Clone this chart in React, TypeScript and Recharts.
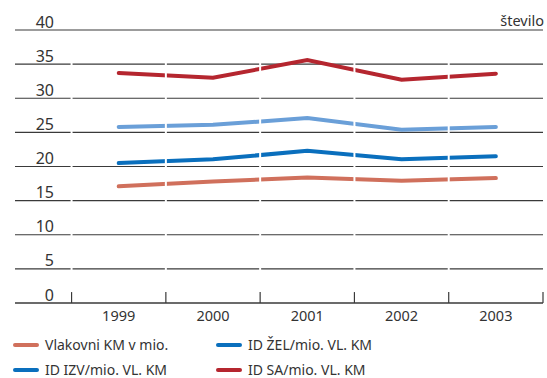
import { LineChart, Line, XAxis, YAxis, CartesianGrid, ReferenceLine } from 'recharts';

const years = ['1999', '2000', '2001', '2002', '2003'];
const vlakovniKm = [17.1, 17.8, 18.4, 17.9, 18.3];
const idZel = [20.5, 21.05, 22.3, 21.05, 21.5];
const idIzv = [25.8, 26.1, 27.1, 25.4, 25.8];
const idSa = [33.7, 33.0, 35.6, 32.7, 33.6];
const yTicks = [0, 5, 10, 15, 20, 25, 30, 35, 40];

const FONT = '"Noto Sans", "Open Sans", sans-serif';
const TEXT = '#333';
const GRID = '#3a3a3a';

const series = [
  { key: 'vlak', name: 'Vlakovni KM v mio.', color: '#d0705c', legend: '#d0705c' },
  { key: 'zel', name: 'ID ŽEL/mio. VL. KM', color: '#0a6fbd', legend: '#0a6fbd' },
  { key: 'izv', name: 'ID IZV/mio. VL. KM', color: '#6a9fd8', legend: '#0a6fbd' },
  { key: 'sa', name: 'ID SA/mio. VL. KM', color: '#b5262f', legend: '#b5262f' },
];

const data = years.map((y, i) => ({
  i,
  year: y,
  vlak: vlakovniKm[i],
  zel: idZel[i],
  izv: idIzv[i],
  sa: idSa[i],
}));

// category boundaries (between years) on the numeric x scale
const bounds = [...years.map((_, i) => i - 0.5), years.length - 0.5];

const renderYTick = (props: any) => {
  const { y, payload } = props;
  return (
    <text key={payload.value} x={54} y={y - 2.5} textAnchor="end" fill={TEXT} fontSize={16} fontFamily={FONT}>
      {payload.value}
    </text>
  );
};

const legendPos = [
  { left: 13, top: 337 },
  { left: 216, top: 337 },
  { left: 13, top: 362 },
  { left: 216, top: 362 },
];

export default function App() {
  return (
    <div style={{ position: 'absolute', left: 0, top: 0, width: 547, height: 378, background: '#fff', fontFamily: FONT }}>
      <LineChart width={547} height={330} data={data} margin={{ top: 30, right: 4, left: 0, bottom: 0 }}>
        <CartesianGrid vertical={false} stroke={GRID} strokeWidth={1.2} />
        <XAxis
          dataKey="i"
          type="number"
          domain={[-1.1, 4.5]}
          ticks={years.map((_, i) => i)}
          tickFormatter={(v) => years[v]}
          tickLine={false}
          tickSize={0}
          tickMargin={8}
          height={27}
          axisLine={{ stroke: GRID, strokeWidth: 1.2 }}
          tick={{ fill: TEXT, fontSize: 14.5, fontFamily: FONT }}
        />
        <YAxis
          domain={[0, 40]}
          ticks={yTicks}
          width={15}
          axisLine={false}
          tickLine={false}
          tickSize={0}
          tickMargin={0}
          tick={renderYTick}
        />
        {series.map((s) => (
          <Line
            key={s.key}
            dataKey={s.key}
            stroke={s.color}
            strokeWidth={4}
            strokeLinecap="round"
            dot={false}
            isAnimationActive={false}
          />
        ))}
        {bounds.slice(0, -1).map((b) => (
          <ReferenceLine
            key={'w' + b}
            segment={[{ x: b, y: 1.7 }, { x: b, y: 38 }]}
            stroke="#fff"
            strokeWidth={2}
          />
        ))}
        {bounds.map((b) => (
          <ReferenceLine
            key={'t' + b}
            segment={[{ x: b, y: 0 }, { x: b, y: 1.6 }]}
            stroke={GRID}
            strokeWidth={1.2}
          />
        ))}
      </LineChart>
      <div style={{ position: 'absolute', right: 3, top: 10, fontSize: 14.5, color: TEXT }}>število</div>
      {series.map((s, i) => (
        <div
          key={s.key}
          style={{
            position: 'absolute',
            left: legendPos[i].left,
            top: legendPos[i].top,
            height: 16,
            lineHeight: '16px',
            display: 'flex',
            alignItems: 'center',
            fontSize: 14,
            color: TEXT,
            whiteSpace: 'nowrap',
          }}
        >
          <div style={{ width: 26, height: 4, borderRadius: 2, background: s.legend, marginRight: 6 }} />
          <span>{s.name}</span>
        </div>
      ))}
    </div>
  );
}
